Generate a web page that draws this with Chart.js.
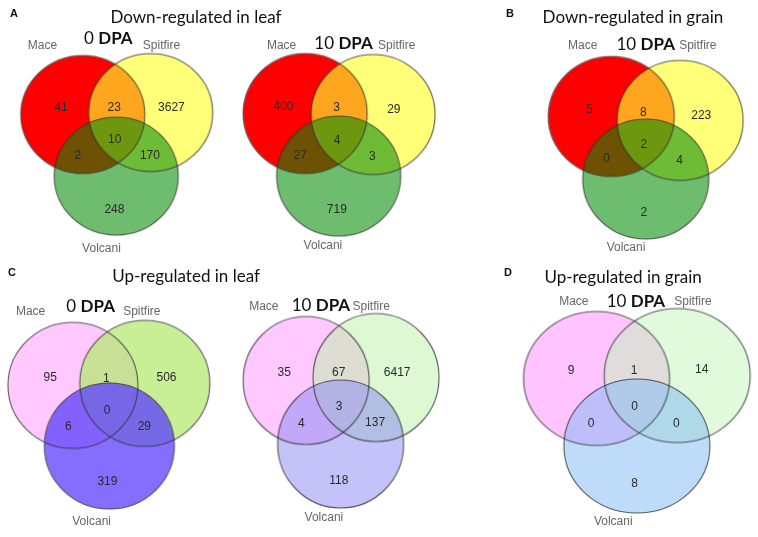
<!DOCTYPE html>
<html lang="en">
<head>
<meta charset="UTF-8">
<title>Venn diagrams - differentially expressed genes</title>
<style>
  body { margin: 0; background: #fff; }
  #wrap { width: 758px; height: 537px; }
</style>
</head>
<body>
<div id="wrap"><canvas id="venn" width="758" height="537"></canvas></div>

<script src="https://cdn.jsdelivr.net/npm/chart.js"></script>
<script>
// region counts, order: Mace only, Mace+Spitfire, Spitfire only, all three,
// Mace+Volcani, Spitfire+Volcani, Volcani only
const downLeaf0   = [41, 23, 3627, 10, 2, 170, 248];
const downLeaf10  = [400, 3, 29, 4, 27, 3, 719];
const downGrain10 = [5, 8, 223, 2, 0, 4, 2];
const upLeaf0     = [95, 1, 506, 0, 6, 29, 319];
const upLeaf10    = [35, 67, 6417, 3, 4, 137, 118];
const upGrain10   = [9, 1, 14, 0, 0, 0, 8];

const setNames = ['Mace', 'Spitfire', 'Volcani'];
const stages = ['0', '10', '10', '0', '10', '10'];
const titles = ['Down-regulated in leaf', 'Down-regulated in grain', 'Up-regulated in leaf', 'Up-regulated in grain'];
const letters = ['A', 'B', 'C', 'D'];

// colour themes (Mace, Spitfire, Volcani)
const downColors = ['rgba(255,0,0,1)', 'rgba(255,255,48,0.65)', 'rgba(5,140,5,0.58)'];
const upColors0  = ['rgba(255,200,255,1)', 'rgba(179,233,110,0.73)', 'rgba(95,65,255,0.77)'];
const upColors10 = ['rgba(255,200,255,1)', 'rgba(190,242,170,0.5)', 'rgba(135,135,245,0.5)'];
const grainUpColors = ['rgba(255,195,255,1)', 'rgba(195,245,185,0.5)', 'rgba(125,185,245,0.5)'];

// layout: circle centres, radii (rx, ry), set-name and stage label spots
const panels = [
  { counts: downLeaf0, stage: stages[0], colors: downColors,
    c: [[78, 111], [147, 109], [112, 174]], r: [62, 59],
    lab: [[37, 41], [158, 41], [97, 248]], dpa: [104, 33] },
  { counts: downLeaf10, stage: stages[1], colors: downColors,
    c: [[304, 110], [373, 111], [338, 174]], r: [62, 60],
    lab: [[280, 41], [397, 41], [322, 245]], dpa: [343, 38] },
  { counts: downGrain10, stage: stages[2], colors: downColors,
    c: [[615, 113], [685, 117], [650, 177]], r: [63, 60],
    lab: [[586, 41], [703, 41], [630, 247]], dpa: [650, 39] },
  { counts: upLeaf0, stage: stages[3], colors: upColors0,
    c: [[68, 388], [141, 386], [105, 450]], r: [65, 63],
    lab: [[25, 313], [138, 313], [87, 527]], dpa: [86, 307] },
  { counts: upLeaf10, stage: stages[4], colors: upColors10,
    c: [[305, 383], [376, 380], [340, 448]], r: [63, 64],
    lab: [[262, 308], [371, 308], [323, 523]], dpa: [320, 306] },
  { counts: upGrain10, stage: stages[5], colors: grainUpColors,
    c: [[600, 381], [682, 378], [641, 450]], r: [73, 67],
    lab: [[577, 302], [698, 302], [617, 527]], dpa: [640, 302] }
];

const headers = [
  { letter: [8, 8], title: [193, 12] },
  { letter: [512, 8], title: [637, 12] },
  { letter: [6, 273], title: [183, 277] },
  { letter: [510, 273], title: [627, 278] }
];

// ellipse sprite used as a point style
function ellipse(rx, ry, fill, stroke) {
  const cv = document.createElement('canvas');
  cv.width = Math.ceil(rx * 2 + 4);
  cv.height = Math.ceil(ry * 2 + 4);
  const g = cv.getContext('2d');
  g.beginPath();
  g.ellipse(cv.width / 2, cv.height / 2, rx, ry, 0, 0, Math.PI * 2);
  if (fill) { g.fillStyle = fill; g.fill(); }
  if (stroke) { g.strokeStyle = stroke; g.lineWidth = 1.1; g.stroke(); }
  return cv;
}

function setDataset(i, order) {
  return {
    label: setNames[i],
    data: panels.map(p => ({ x: p.c[i][0], y: p.c[i][1] })),
    pointStyle: panels.map(p => ellipse(p.r[0], p.r[1], p.colors[i], null)),
    pointRadius: 5,
    order: order
  };
}

const outlineSet = {
  label: 'outline',
  data: panels.flatMap(p => p.c.map(c => ({ x: c[0], y: c[1] }))),
  pointStyle: panels.flatMap(p => p.c.map(() => ellipse(p.r[0], p.r[1], null, 'rgba(50,50,50,0.8)'))),
  pointRadius: 5,
  order: 0
};

// where each count goes, relative to the circles (in radius units)
function regionSpots(p) {
  const [M, S, V] = p.c, rx = p.r[0], ry = p.r[1];
  const mid = (a, b) => [(a[0] + b[0]) / 2, (a[1] + b[1]) / 2];
  const cen = [(M[0] + S[0] + V[0]) / 3, (M[1] + S[1] + V[1]) / 3];
  const at = (base, ox, oy) => [base[0] + ox * rx, base[1] + oy * ry];
  return [
    at(M, -0.355, -0.12),
    at(mid(M, S), -0.04, -0.1),
    at(S, 0.34, -0.085),
    at(cen, -0.03, 0.1),
    at(mid(M, V), -0.355, 0.18),
    at(mid(S, V), 0.27, 0.195),
    at(V, -0.03, 0.58)
  ];
}

const textPlugin = {
  id: 'vennText',
  afterDatasetsDraw(chart) {
    const ctx = chart.ctx, xs = chart.scales.x, ys = chart.scales.y;
    const px = pt => [xs.getPixelForValue(pt[0]), ys.getPixelForValue(pt[1])];
    ctx.save();
    ctx.textAlign = 'center';
    ctx.textBaseline = 'middle';

    panels.forEach(p => {
      // counts
      ctx.font = '12px "Liberation Sans", Arial, sans-serif';
      ctx.fillStyle = '#2a2a2a';
      regionSpots(p).forEach((s, k) => {
        const [x, y] = px(s);
        ctx.fillText(String(p.counts[k]), x, y);
      });
      // set names
      ctx.fillStyle = '#666';
      p.lab.forEach((l, k) => {
        const [x, y] = px(l);
        ctx.fillText(setNames[k], x, y);
      });
      // stage label "0 DPA" with bold DPA
      const [dx, dy] = px(p.dpa);
      const a = p.stage + ' ';
      ctx.font = '17px Lato, "Open Sans", sans-serif';
      const wa = ctx.measureText(a).width;
      ctx.font = 'bold 17px Lato, "Open Sans", sans-serif';
      const wb = ctx.measureText('DPA').width;
      const x0 = dx - (wa + wb) / 2;
      ctx.textAlign = 'left';
      ctx.fillStyle = '#111';
      ctx.font = '17px Lato, "Open Sans", sans-serif';
      ctx.fillText(a, x0, dy);
      ctx.font = 'bold 17px Lato, "Open Sans", sans-serif';
      ctx.fillText('DPA', x0 + wa, dy);
      ctx.textAlign = 'center';
    });

    headers.forEach((h, k) => {
      ctx.fillStyle = '#111';
      ctx.font = 'bold 11px "Liberation Sans", Arial, sans-serif';
      const [lx, ly] = px(h.letter);
      ctx.fillText(letters[k], lx, ly);
      ctx.font = '17px Lato, "Open Sans", sans-serif';
      const [tx, ty] = px(h.title);
      ctx.fillText(titles[k], tx, ty);
    });
    ctx.restore();
  }
};

new Chart(document.getElementById('venn'), {
  type: 'scatter',
  data: {
    datasets: [setDataset(0, 3), setDataset(1, 2), setDataset(2, 1), outlineSet]
  },
  options: {
    responsive: false,
    animation: false,
    events: [],
    layout: { padding: 0 },
    scales: {
      x: { type: 'linear', min: 0, max: 758, display: false },
      y: { type: 'linear', min: 0, max: 537, reverse: true, display: false }
    },
    plugins: {
      legend: { display: false },
      tooltip: { enabled: false }
    }
  },
  plugins: [textPlugin]
});
</script>
</body>
</html>
